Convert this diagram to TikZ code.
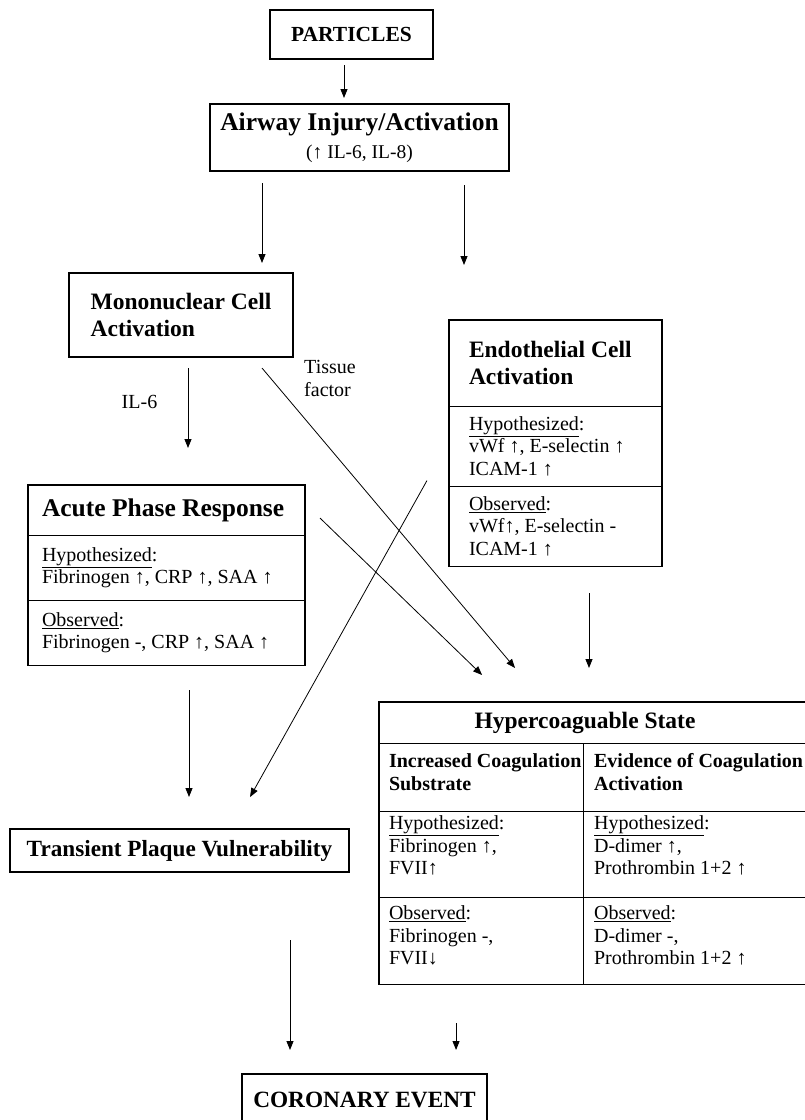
\documentclass[tikz,border=0pt]{standalone}
\usepackage{fontspec}
\setmainfont{Liberation Serif}
\usetikzlibrary{shapes,arrows.meta}

\newcommand\titlebig{\bfseries\fontsize{25.5}{28}\selectfont}
\newcommand\titlemid{\bfseries\fontsize{23.5}{27}\selectfont}
\newcommand\titlesmall{\bfseries\fontsize{20}{22.5}\selectfont}
\newcommand\bodytext{\fontsize{20}{22.5}\selectfont}
% fixed size part of a split box: width, height, text
\newcommand\cell[3]{\begin{minipage}[c][#2][c]{#1}#3\end{minipage}}
% table cell: width, height, top pad, text
\newcommand\tcell[4]{\makebox[#1][l]{\hspace{10pt}\begin{minipage}[c][#2][t]{\dimexpr#1-10pt\relax}\vspace*{#3}#4\end{minipage}}}

\begin{document}
\begin{tikzpicture}[x=1pt,y=-1pt]
\tikzstyle{plainbox}=[draw, line width=1.1pt, outer sep=0pt, inner sep=0pt, align=center]
\tikzstyle{splitbox}=[
  rectangle split,
  rectangle split parts=3,
  draw, line width=1.1pt, outer sep=0pt,
  inner xsep=14pt, inner ysep=0pt, anchor=north west ]
\tikzstyle{conn}=[-{Triangle[length=9pt,width=7pt]}, line width=0.8pt]
\tikzstyle{lbl}=[align=left, font=\bodytext, inner sep=0pt]
\useasboundingbox (0,0) rectangle (805,1120);
\clip (0,0) rectangle (805,1120);

\node[plainbox, minimum width=163pt, minimum height=49pt,
  font=\bfseries\fontsize{21.5}{24}\selectfont] (particles) at (351.5,34.5) {PARTICLES};
\node[plainbox, minimum width=299pt, minimum height=67pt,
  font=\fontsize{19.5}{22}\selectfont] (airway) at (359.5,137.5)
  {{\titlebig Airway Injury/Activation}\\[6pt](↑ IL-6, IL-8)};
\node[plainbox, minimum width=224pt, minimum height=84pt, align=left,
  font=\titlemid] (mono) at (181,315) {Mononuclear Cell\\Activation};

\node[splitbox, inner xsep=20pt] (endo) at (449,320)
  {\cell{173pt}{85pt}{\titlemid Endothelial Cell\\Activation}
   \nodepart{two}\cell{173pt}{79pt}{\bodytext\underline{Hypothesized}:\\vWf ↑, E-selectin ↑\\ICAM-1 ↑}
   \nodepart{three}\cell{173pt}{79pt}{\bodytext\underline{Observed}:\\vWf↑, E-selectin -\\ICAM-1 ↑}};

\node[splitbox] (acute) at (28,485)
  {\cell{249pt}{49pt}{\titlebig Acute Phase Response}
   \nodepart{two}\cell{249pt}{64pt}{\bodytext\underline{Hypothesized}:\\Fibrinogen ↑, CRP ↑, SAA ↑}
   \nodepart{three}\cell{249pt}{64pt}{\bodytext\underline{Observed}:\\Fibrinogen -, CRP ↑, SAA ↑}};

\node[splitbox, rectangle split parts=4, inner xsep=0pt] (hyper) at (379,702)
  {\cell{436pt}{40pt}{\makebox[412pt]{\titlemid Hypercoaguable State}}
   \nodepart{two}\tcell{204pt}{67pt}{10pt}{\titlesmall Increased Coagulation\\Substrate}\vrule width 1.1pt%
     \tcell{231pt}{67pt}{10pt}{\titlesmall Evidence of Coagulation\\Activation}
   \nodepart{three}\tcell{204pt}{85pt}{4pt}{\bodytext\underline{Hypothesized}:\\Fibrinogen ↑,\\FVII↑}\vrule width 1.1pt%
     \tcell{231pt}{85pt}{4pt}{\bodytext\underline{Hypothesized}:\\D-dimer ↑,\\Prothrombin 1+2 ↑}
   \nodepart{four}\tcell{204pt}{86pt}{8pt}{\bodytext\underline{Observed}:\\Fibrinogen -,\\FVII↓}\vrule width 1.1pt%
     \tcell{231pt}{86pt}{8pt}{\bodytext\underline{Observed}:\\D-dimer -,\\Prothrombin 1+2 ↑}};

\node[plainbox, minimum width=339pt, minimum height=43pt,
  font=\bfseries\fontsize{23.2}{26}\selectfont] (trans) at (179.5,850.5) {Transient Plaque Vulnerability};
\node[plainbox, minimum width=245pt, minimum height=52pt,
  font=\bfseries\fontsize{23.3}{26}\selectfont] (coronary) at (364.5,1100) {CORONARY EVENT};

\node[lbl] (il6) at (139.5,402) {IL-6};
\node[lbl] (tf) at (330,378.5) {Tissue\\factor};

% arrows
\draw[conn, shorten <=6pt, shorten >=6pt] ([xshift=-7.5pt]particles.south) -- ([xshift=-7.5pt]particles.south |- airway.north);
\draw[conn, shorten <=12pt, shorten >=10pt] ([xshift=-97.5pt]airway.south) -- ([xshift=-97.5pt]airway.south |- mono.north);
\draw[conn, shorten <=14pt, shorten >=55pt] ([xshift=104.5pt]airway.south) -- ([xshift=104.5pt]airway.south |- endo.north);
\draw[conn, shorten <=11pt, shorten >=37pt] ([xshift=7pt]mono.south) -- ([xshift=7pt]mono.south |- acute.north);
\draw[conn, shorten <=14.4pt, shorten >=44.5pt] ([xshift=71.7pt]mono.south) -- ([xshift=-53.3pt]hyper.north);
\draw[conn, shorten <=20.9pt, shorten >=38.8pt] ([yshift=-18.5pt]acute.north east) -- ([xshift=-87.1pt]hyper.north);
\draw[conn, shorten <=27pt, shorten >=34pt] ([xshift=33.5pt]endo.south) -- ([xshift=33.5pt]endo.south |- hyper.north);
\draw[conn, shorten <=45.2pt, shorten >=36.6pt] ([yshift=2pt]endo.west) -- ([xshift=52.7pt]trans.north);
\draw[conn, shorten <=25pt, shorten >=32pt] ([xshift=22.5pt]acute.south) -- ([xshift=22.5pt]acute.south |- trans.north);
\draw[conn, shorten <=68pt, shorten >=24pt] ([xshift=110.5pt]trans.south) -- ([xshift=110.5pt]trans.south |- coronary.north);
\draw[conn, shorten <=39pt, shorten >=24pt] ([xshift=-141pt]hyper.south) -- ([xshift=-141pt]hyper.south |- coronary.north);
\end{tikzpicture}
\end{document}
